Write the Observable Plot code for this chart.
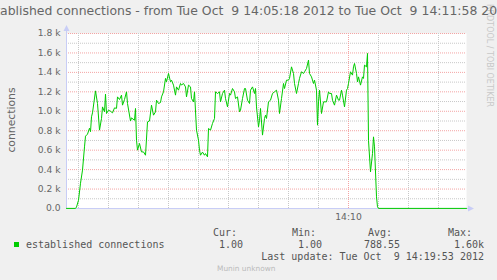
<!DOCTYPE html>
<html>
<head>
<meta charset="utf-8">
<script src="https://cdn.jsdelivr.net/npm/d3@7"></script>
<script src="https://cdn.jsdelivr.net/npm/@observablehq/plot@0.6"></script>
<style>
  html, body { margin: 0; padding: 0; background: #f0f0f0; }
  #wrap { position: relative; width: 497px; height: 280px; overflow: hidden; background: #f0f0f0; }
  #wrap svg { position: absolute; left: 0; top: 0; }
  .t { position: absolute; white-space: pre; color: #666; line-height: 1; }
  .mono { font-family: "DejaVu Sans Mono", monospace; font-size: 10px; color: #555; }
</style>
</head>
<body>
<div id="wrap"></div>
<script>
// ---- data (seconds after 14:05:18, connections) ----
const startTime = "2012-10-09T14:05:18Z";
const endTime = "2012-10-09T14:11:58Z";
const seconds = [0,9,10,12,14,16,18,19,21,23,24,25,26,29,31,33,35,36,38,39,40,42,44,46,48,50,51,53,55,56,58,60,61,64,65,68,69,70,71,73,75,77,79,81,83,85,87,89,90,92,94,95,97,99,100,102,104,105,107,109,110,112,114,115,117,119,120,122,124,125,127,128,130,132,133,134,136,138,139,141,142,144,146,148,149,151,153,154,156,158,159,161,163,164,166,168,169,171,173,174,176,178,179,181,183,184,186,188,189,190,192,193,194,196,198,199,200,202,204,206,208,210,212,213,215,217,218,220,222,223,225,227,228,230,232,233,235,237,238,240,242,243,245,247,248,250,251,252,253,255,257,260,262,263,265,266,268,270,272,273,275,276,278,280,281,282,284,286,287,288,290,291,292,294,296,297,298,300,301,302,304,306,307,308,310,311,312,400];
const connections = [1,1,15,85,260,395,634,744,765,826,790,943,984,1210,1080,806,926,1045,994,1176,977,1011,1000,984,1035,1030,1148,1121,1166,1063,1121,1200,1080,900,932,908,1029,703,600,669,582,582,548,891,900,1063,960,994,1114,1080,1090,1148,1200,1338,1303,1389,1303,1320,1269,1166,1251,1217,1286,1270,1286,1251,1148,1269,1251,1131,1097,1200,806,703,600,548,580,548,565,531,823,806,875,926,1200,1183,1200,1097,1183,1217,1131,1045,1183,1166,1234,1200,1131,1148,994,1011,1131,1234,1234,1114,1080,1217,1251,1183,1234,1045,840,908,1029,755,926,960,926,1097,1114,1183,1200,1217,1114,977,1131,1286,1234,1320,1320,1338,1457,1389,1286,1183,1286,1338,1406,1389,1406,1440,1526,1389,1354,1286,1320,1217,857,1097,1217,977,1097,1097,1200,1183,1183,1114,1063,1166,1114,1114,1217,1166,1045,1217,1234,1286,1406,1372,1457,1492,1389,1303,1354,1269,1354,1338,1475,1457,1595,700,377,566,737,634,120,17,1,1];

// ---- axes / grid ----
const yMajor = [200,400,600,800,1000,1200,1400,1600,1800];
const yMinor = [100,300,500,700,900,1100,1300,1500,1700];
const yTicks = [0,200,400,600,800,1000,1200,1400,1600,1800];
const yTickLabels = ["0.0","0.2 k","0.4 k","0.6 k","0.8 k","1.0 k","1.2 k","1.4 k","1.6 k","1.8 k"];
const xMajor = ["2012-10-09T14:10:00Z"];
const xMajorLabels = ["14:10"];
const xMinor = ["2012-10-09T14:05:30Z","2012-10-09T14:06:00Z","2012-10-09T14:06:30Z","2012-10-09T14:07:00Z","2012-10-09T14:07:30Z","2012-10-09T14:08:00Z","2012-10-09T14:08:30Z","2012-10-09T14:09:00Z","2012-10-09T14:09:30Z","2012-10-09T14:10:30Z","2012-10-09T14:11:00Z","2012-10-09T14:11:30Z"];

// ---- texts ----
const titleText = "established connections - from Tue Oct  9 14:05:18 2012 to Tue Oct  9 14:11:58 2012";
const yLabel = "connections";
const watermark = "RRDTOOL / TOBI OETIKER";
const seriesName = "established connections";
const statNames = ["Cur:", "Min:", "Avg:", "Max:"];
const statValues = ["1.00", "1.00", "788.55", "1.60k"];
const lastUpdate = "Last update: Tue Oct  9 14:19:53 2012";
const footer = "Munin unknown";

const t0 = new Date(startTime);
const data = seconds.map((s, i) => ({time: new Date(t0.getTime() + s * 1000), value: connections[i]}));

const W = 497, H = 280, mL = 66, mR = 31, mT = 33, mB = 72;
const axisColor = "#c8cdf6";
const labelFmt = new Map(yTicks.map((v, i) => [v, yTickLabels[i]]));
const xLabelFmt = new Map(xMajor.map((v, i) => [new Date(v).getTime(), xMajorLabels[i]]));

const chart = Plot.plot({
  width: W, height: H,
  marginLeft: mL, marginRight: mR, marginTop: mT, marginBottom: mB,
  style: {background: "transparent", fontFamily: "DejaVu Sans", fontSize: "9.2px", color: "#666", overflow: "visible"},
  x: {type: "utc", domain: [new Date(startTime), new Date(endTime)]},
  y: {domain: [0, 1800]},
  marks: [
    Plot.frame({fill: "#ffffff", stroke: "none"}),
    Plot.ruleY(yMinor, {stroke: "#c8c8c8", strokeDasharray: "1,1"}),
    Plot.ruleY(yMajor, {stroke: "#f4a4a4", strokeDasharray: "1,1"}),
    Plot.ruleX(xMinor.map(d => new Date(d)), {stroke: "#c8c8c8", strokeDasharray: "1,1"}),
    Plot.ruleX(xMajor.map(d => new Date(d)), {stroke: "#f4a4a4", strokeDasharray: "1,1"}),
    Plot.axisY(yTicks, {tickSize: 0, tickPadding: 6, tickFormat: d => labelFmt.get(d), fill: "#666", label: null}),
    Plot.axisX(xMajor.map(d => new Date(d)), {tickSize: 0, tickPadding: 5, tickFormat: d => xLabelFmt.get(d.getTime()), fill: "#666", label: null}),
    Plot.line(data, {x: "time", y: "value", stroke: "#00cc00", strokeWidth: 1})
  ]
});

const wrap = document.getElementById("wrap");
wrap.appendChild(chart);

// axis lines with arrows, then raise the series line above them
const svg = d3.select(chart);
const x0 = mL + 0.5, y0 = H - mB + 0.5;
const g = svg.append("g");
g.append("line").attr("x1", x0).attr("x2", x0).attr("y1", y0).attr("y2", mT - 4).attr("stroke", axisColor);
g.append("line").attr("x1", mL).attr("x2", W - mR + 4).attr("y1", y0).attr("y2", y0).attr("stroke", axisColor);
g.append("path").attr("d", `M${x0},${mT - 8}L${x0 - 3},${mT - 2}L${x0 + 3},${mT - 2}Z`).attr("fill", axisColor);
g.append("path").attr("d", `M${W - mR + 8},${y0}L${W - mR + 2},${y0 - 3}L${W - mR + 2},${y0 + 3}Z`).attr("fill", axisColor);
const lineG = chart.querySelector('g[aria-label="line"]');
if (lineG) chart.appendChild(lineG);

// rotated watermark on the right edge, reading downward from the top
svg.append("text")
  .attr("transform", `translate(${W - 10.5},4) rotate(90)`)
  .attr("text-anchor", "start")
  .attr("font-family", "DejaVu Sans")
  .attr("font-size", "8px")
  .attr("fill", "#c8c8c8")
  .text(watermark);

// HTML texts
function addText(txt, cls, css) {
  const d = document.createElement("div");
  d.className = "t " + cls;
  d.textContent = txt;
  Object.assign(d.style, css);
  wrap.appendChild(d);
  return d;
}
addText(titleText, "", {left: "-153px", width: "800px", textAlign: "center", top: "5px", fontFamily: "DejaVu Sans", fontSize: "12.45px", color: "#666"});
addText(yLabel, "", {left: "11.5px", top: "120px", fontFamily: "DejaVu Sans", fontSize: "10.8px", color: "#666", transform: "translate(-50%,-50%) rotate(-90deg)", transformOrigin: "center"});

const sq = document.createElement("div");
Object.assign(sq.style, {position: "absolute", left: "14px", top: "242px", width: "5px", height: "5px", background: "#00cc00"});
wrap.appendChild(sq);
addText(seriesName, "mono", {left: "26px", top: "240px"});
const statX = [213, 292, 368, 448];
const valRight = [243, 322, 400, 484];
statNames.forEach((s, i) => addText(s, "mono", {left: statX[i] + "px", top: "228px"}));
statValues.forEach((s, i) => addText(s, "mono", {left: (valRight[i] - 60) + "px", width: "60px", textAlign: "right", top: "240px"}));
addText(lastUpdate, "mono", {left: "224px", width: "260px", textAlign: "right", top: "252px"});
addText(footer, "", {left: "217px", top: "265px", fontFamily: "DejaVu Sans", fontSize: "7.4px", color: "#bbb"});
</script>
</body>
</html>
